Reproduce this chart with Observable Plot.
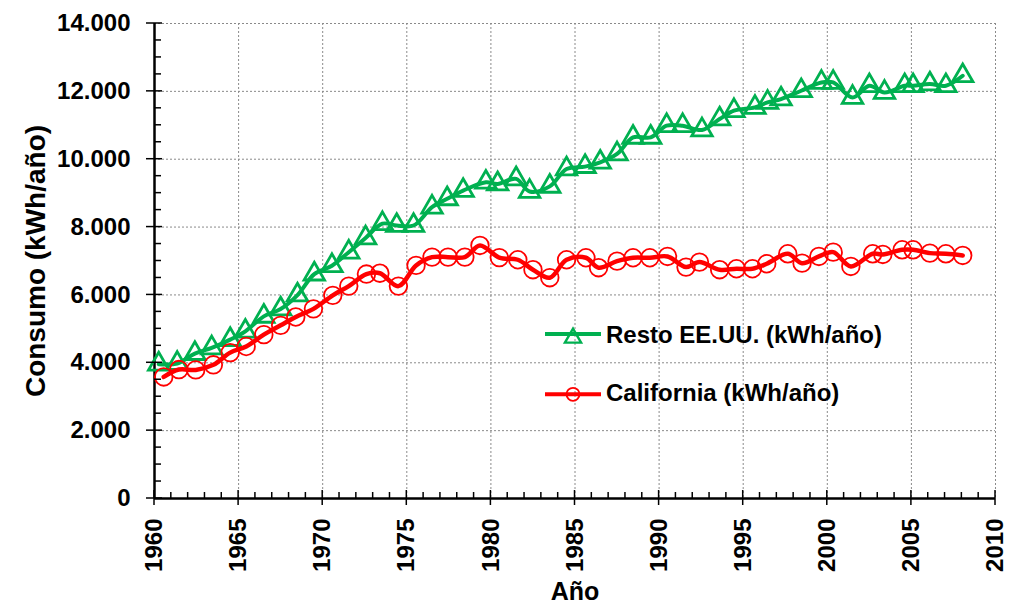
<!DOCTYPE html>
<html>
<head>
<meta charset="utf-8">
<script src="https://cdn.jsdelivr.net/npm/d3@7"></script>
<script src="https://cdn.jsdelivr.net/npm/@observablehq/plot@0.6"></script>
<style>
  html, body { margin: 0; padding: 0; background: white; }
  #chart { position: relative; width: 1010px; height: 606px; }
</style>
</head>
<body>
<div id="chart"></div>
<script>
// ---- Data ----
const restoYears = [1960.25,1961.35,1962.4,1963.4,1964.5,1965.4,1966.5,1967.5,1968.5,1969.5,1970.55,1971.55,1972.55,1973.55,1974.4,1975.4,1976.5,1977.4,1978.35,1979.7,1980.4,1981.5,1982.3,1983.5,1984.5,1985.6,1986.5,1987.5,1988.45,1989.5,1990.45,1991.4,1992.55,1993.6,1994.45,1995.7,1996.45,1997.25,1998.45,1999.65,2000.35,2001.5,2002.5,2003.4,2004.6,2005.1,2006.1,2007.05,2008.05];
const restoValues = [3960,3980,4271,4437,4683,4928,5369,5585,5996,6614,6861,7260,7680,8100,8046,8046,8585,8832,9076,9320,9273,9420,9050,9200,9714,9782,9909,10156,10644,10644,10988,10988,10862,11185,11430,11527,11674,11774,12018,12262,12262,11821,12165,11968,12165,12165,12215,12165,12459];

const caliYears = [1960.55,1961.45,1962.45,1963.5,1964.5,1965.45,1966.5,1967.5,1968.4,1969.45,1970.6,1971.55,1972.6,1973.4,1974.5,1975.55,1976.5,1977.45,1978.45,1979.35,1980.5,1981.6,1982.5,1983.5,1984.5,1985.65,1986.4,1987.5,1988.45,1989.45,1990.5,1991.6,1992.4,1993.6,1994.6,1995.55,1996.4,1997.65,1998.5,1999.5,2000.35,2001.4,2002.7,2003.3,2004.45,2005.1,2006.1,2007.05,2008.05];
const caliValues = [3583,3800,3790,3940,4300,4480,4830,5104,5350,5590,5987,6260,6615,6640,6260,6870,7114,7114,7114,7458,7100,7037,6743,6508,7037,7096,6802,6996,7096,7096,7134,6820,6967,6743,6772,6772,6919,7213,6937,7134,7261,6840,7213,7193,7331,7331,7232,7213,7164];

const xMajorTicks = [1960,1965,1970,1975,1980,1985,1990,1995,2000,2005,2010];
const xMinorTicks = d3.range(1960, 2011, 1);
const yMajorTicks = [0,2000,4000,6000,8000,10000,12000,14000];
const yMinorTicks = d3.range(0, 14001, 500);

const seriesNames = ["Resto EE.UU. (kWh/año)", "California (kWh/año)"];
const seriesColors = ["#00B050", "#FF0000"];
const xTitle = "Año";
const yTitle = "Consumo (kWh/año)";

// ---- Build tables ----
const resto = restoYears.map((x, i) => ({x, y: restoValues[i]}));
const cali = caliYears.map((x, i) => ({x, y: caliValues[i]}));

const fmt = d3.formatLocale({decimal: ",", thousands: ".", grouping: [3], currency: ["", ""]}).format(",d");
const FONT = "Liberation Sans, Arial, Helvetica, sans-serif";
const gridStyle = {stroke: "#8a8a8a", strokeOpacity: 1, strokeDasharray: "2,2", strokeWidth: 1};

const chart = Plot.plot({
  width: 1010,
  height: 606,
  marginLeft: 154,
  marginRight: 15,
  marginTop: 23,
  marginBottom: 108,
  x: {domain: [1960, 2010]},
  y: {domain: [0, 14000]},
  style: {fontFamily: FONT, background: "white", color: "black", overflow: "visible"},
  marks: [
    Plot.gridX(xMajorTicks.filter(d => d > 1960), gridStyle),
    Plot.gridY(yMajorTicks.filter(d => d > 0), gridStyle),
    // tick labels
    Plot.axisX(xMajorTicks, {tickSize: 0, tickPadding: 20, tickRotate: -90, tickFormat: d => String(d), fontSize: 24, fontWeight: "bold", fill: "black", label: null}),
    Plot.axisY(yMajorTicks, {tickSize: 0, tickPadding: 24, tickFormat: fmt, fontSize: 24, fontWeight: "bold", fill: "black", label: null}),
    // axis lines
    Plot.ruleY([0], {stroke: "black", strokeWidth: 2.5}),
    Plot.ruleX([1960], {stroke: "black", strokeWidth: 2.5}),
    // axis titles
    Plot.text([yTitle], {frameAnchor: "left", dx: -110, rotate: -90, lineAnchor: "bottom", textAnchor: "middle", fontSize: 28, fontWeight: "bold", fill: "black"}),
    Plot.text([xTitle], {frameAnchor: "bottom", dy: 101, lineAnchor: "bottom", textAnchor: "middle", fontSize: 25, fontWeight: "bold", fill: "black"}),
    // series
    Plot.line(resto, {x: "x", y: "y", stroke: seriesColors[0], strokeWidth: 4, curve: "catmull-rom"}),
    Plot.dot(resto, {x: "x", y: "y", symbol: "triangle", r: 7.6, stroke: seriesColors[0], strokeWidth: 2.8, fill: "none"}),
    Plot.line(cali, {x: "x", y: "y", stroke: seriesColors[1], strokeWidth: 4.5, curve: "catmull-rom"}),
    Plot.dot(cali, {x: "x", y: "y", r: 8.8, stroke: seriesColors[1], strokeWidth: 1.8, fill: "none"})
  ]
});

document.getElementById("chart").appendChild(chart);

// ---- Tick marks, placed through the plot's own scales ----
const sx = chart.scale("x"), sy = chart.scale("y");
const svg = d3.select(chart);
const y0 = sy.apply(0), x0 = sx.apply(1960);
const tg = svg.append("g").attr("stroke", "black").attr("stroke-width", 1.5);
xMinorTicks.forEach(v => {
  const px = sx.apply(v), major = xMajorTicks.includes(v);
  tg.append("line").attr("x1", px).attr("x2", px)
    .attr("y1", y0 - (major ? 8 : 6)).attr("y2", y0 + (major ? 7 : 0));
});
yMinorTicks.forEach(v => {
  const py = sy.apply(v), major = yMajorTicks.includes(v);
  tg.append("line").attr("y1", py).attr("y2", py)
    .attr("x1", x0 - (major ? 8 : 0)).attr("x2", x0 + (major ? 8 : 7));
});

// ---- Legend (inside plot area) ----
const lg = svg.append("g").attr("font-family", FONT).attr("font-weight", "bold")
  .attr("font-size", 24).attr("text-anchor", "start");
const legendRows = [
  {name: seriesNames[0], color: seriesColors[0], y: 334, base: 343, kind: "triangle"},
  {name: seriesNames[1], color: seriesColors[1], y: 394.3, base: 401, kind: "circle"}
];
legendRows.forEach(r => {
  lg.append("line").attr("x1", 545).attr("x2", 601).attr("y1", r.y).attr("y2", r.y)
    .attr("stroke", r.color).attr("stroke-width", 4);
  if (r.kind === "triangle") {
    lg.append("path").attr("d", d3.symbol(d3.symbolTriangle, 113)())
      .attr("transform", `translate(573,${r.y + 4})`)
      .attr("fill", "none").attr("stroke", r.color).attr("stroke-width", 2.4);
  } else {
    lg.append("circle").attr("cx", 573).attr("cy", r.y).attr("r", 6.5)
      .attr("fill", "none").attr("stroke", r.color).attr("stroke-width", 1.8);
  }
  lg.append("text").attr("x", 606).attr("y", r.base).attr("fill", "black")
    .attr("text-anchor", "start").text(r.name);
});
</script>
</body>
</html>
